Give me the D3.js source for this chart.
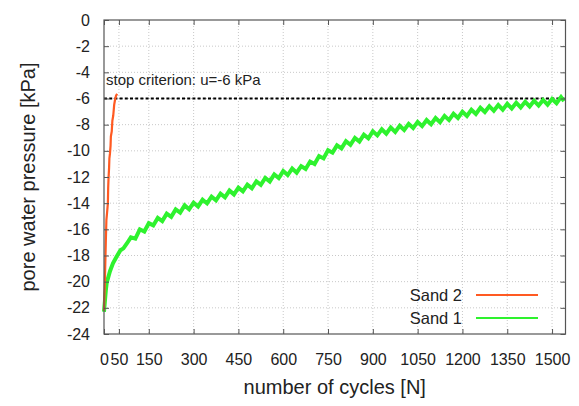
<!DOCTYPE html>
<html>
<head>
<meta charset="utf-8">
<script src="https://cdn.jsdelivr.net/npm/d3@7"></script>
<style>
  html, body { margin: 0; padding: 0; background: #fff; }
  svg { display: block; font-family: "Liberation Sans", Arial, sans-serif; }
</style>
</head>
<body>
<svg id="chart" width="579" height="406"></svg>
<script>
// ---- data ----
const xTicks = [0, 50, 150, 300, 450, 600, 750, 900, 1050, 1200, 1350, 1500];
const yTicks = [0, -2, -4, -6, -8, -10, -12, -14, -16, -18, -20, -22, -24];
const seriesNames = ["Sand 2", "Sand 1"];
const stopCriterion = -6;
const stopLabel = "stop criterion: u=-6 kPa";

const sand2Cycles = [0, 1, 3, 6, 8, 10, 13, 14, 15, 17, 18, 20, 22, 23, 26, 28, 31, 34, 37, 40, 44];
const sand2Values = [-22.2, -21.4, -19.9, -17.0, -15.3, -14.8, -14.0, -12.8, -12.2, -11.3, -10.6, -10.2, -9.6, -8.9, -8.5, -7.7, -7.3, -6.5, -6.1, -5.8, -5.65];

const sand1Cycles = [0, 3, 6, 9, 15, 20, 30, 42, 55, 65, 76,
  90, 105, 120, 135, 150, 165, 180, 195, 210, 225, 240, 255, 270, 285, 300, 315, 330, 345, 360, 375,
  390, 405, 420, 435, 450, 465, 480, 495, 510, 525, 540, 555, 570, 585, 600, 615, 630, 645, 660, 675,
  690, 705, 720, 735, 750, 765, 780, 795, 810, 825, 840, 855, 870, 885, 900, 915, 930, 945, 960, 975,
  990, 1005, 1020, 1035, 1050, 1065, 1080, 1095, 1110, 1125, 1140, 1155, 1170, 1185, 1200, 1215, 1230,
  1245, 1260, 1275, 1290, 1305, 1320, 1335, 1350, 1365, 1380, 1395, 1410, 1425, 1440, 1455, 1470, 1485,
  1500, 1515, 1530, 1540];
const sand1Values = [-22.3, -21.5, -20.7, -20.1, -19.6, -19.2, -18.6, -18.1, -17.6, -17.45, -17.1,
  -16.61, -16.71, -16.0, -16.17, -15.53, -15.7, -15.13, -15.37, -14.8, -15.04, -14.48, -14.72, -14.17, -14.46, -13.96, -14.25, -13.74, -14.02, -13.51, -13.79,
  -13.28, -13.56, -13.04, -13.33, -12.81, -13.09, -12.58, -12.86, -12.33, -12.6, -12.07, -12.34, -11.81, -12.08, -11.55, -11.85, -11.36, -11.67, -11.17, -11.39,
  -10.82, -11.01, -10.4, -10.58, -9.95, -10.14, -9.58, -9.81, -9.27, -9.54, -9.02, -9.29, -8.76, -9.04, -8.51, -8.82, -8.35, -8.69, -8.22, -8.55,
  -8.08, -8.41, -7.94, -8.26, -7.79, -8.11, -7.64, -7.96, -7.49, -7.81, -7.33, -7.65, -7.17, -7.49, -7.01, -7.33, -6.86,
  -7.18, -6.71, -7.03, -6.59, -6.94, -6.5, -6.85, -6.41, -6.76, -6.32, -6.68, -6.25, -6.61, -6.18, -6.54, -6.11, -6.47,
  -6.04, -6.36, -5.89, -6.2];

const colors = { "Sand 2": "#ff5a22", "Sand 1": "#2ef22e" };

// ---- chart ----
const svg = d3.select("#chart");
const mLeft = 104, mRight = 565.5, mTop = 20, mBottom = 334;
const x = d3.scaleLinear().domain([0, 1545]).range([mLeft, mRight]);
const y = d3.scaleLinear().domain([-24, 0]).range([mBottom, mTop]);
const fmt = d => String(d);

// grid
const grid = svg.append("g").attr("stroke", "#c8c8c8").attr("stroke-width", 1).attr("stroke-dasharray", "1,2");
xTicks.forEach(t => {
  if (t === 0) return;
  grid.append("line").attr("x1", x(t)).attr("x2", x(t)).attr("y1", mTop).attr("y2", mBottom);
});
yTicks.forEach(t => {
  if (t === 0 || t === -24) return;
  grid.append("line").attr("x1", mLeft).attr("x2", mRight).attr("y1", y(t)).attr("y2", y(t));
});

// stop criterion line
svg.append("line")
  .attr("x1", mLeft).attr("x2", mRight)
  .attr("y1", y(stopCriterion)).attr("y2", y(stopCriterion))
  .attr("stroke", "#000").attr("stroke-width", 1.8).attr("stroke-dasharray", "3,2.2");

svg.append("text")
  .attr("x", mLeft + 2).attr("y", 85)
  .attr("font-size", 15).attr("fill", "#222")
  .text(stopLabel);

// series
const line = d3.line().x(d => x(d[0])).y(d => y(d[1]));
const sand1 = sand1Cycles.map((c, i) => [c, sand1Values[i]]);
const sand2 = sand2Cycles.map((c, i) => [c, sand2Values[i]]);

svg.append("path").datum(sand1)
  .attr("d", line).attr("fill", "none")
  .attr("stroke", colors["Sand 1"]).attr("stroke-width", 4)
  .attr("stroke-linejoin", "miter");
svg.append("path").datum(sand2)
  .attr("d", line).attr("fill", "none")
  .attr("stroke", colors["Sand 2"]).attr("stroke-width", 2.2)
  .attr("stroke-linejoin", "round");

// axes (inward ticks, mirrored)
const axisColor = "#555";
function styleAxis(g) {
  g.select(".domain").remove();
  g.selectAll(".tick line").attr("stroke", axisColor);
  g.selectAll(".tick text").attr("fill", "#222").attr("font-size", 16)
    .attr("font-family", "Liberation Sans, Arial, sans-serif");
}
svg.append("g").attr("transform", `translate(${mLeft},0)`)
  .call(d3.axisLeft(y).tickValues(yTicks).tickFormat(fmt).tickSizeInner(-5).tickSizeOuter(0).tickPadding(14))
  .call(styleAxis);
svg.append("g").attr("transform", `translate(${mRight},0)`)
  .call(d3.axisRight(y).tickValues(yTicks).tickSizeInner(-5).tickSizeOuter(0).tickFormat(""))
  .call(styleAxis);
svg.append("g").attr("transform", `translate(0,${mBottom})`)
  .call(d3.axisBottom(x).tickValues(xTicks).tickFormat(fmt).tickSizeInner(-5).tickSizeOuter(0).tickPadding(20))
  .call(styleAxis);
svg.append("g").attr("transform", `translate(0,${mTop})`)
  .call(d3.axisTop(x).tickValues(xTicks).tickSizeInner(-5).tickSizeOuter(0).tickFormat(""))
  .call(styleAxis);

// frame
svg.append("rect")
  .attr("x", mLeft).attr("y", mTop).attr("width", mRight - mLeft).attr("height", mBottom - mTop)
  .attr("fill", "none").attr("stroke", axisColor).attr("stroke-width", 1.2);

// legend
const legendY = [295, 318];
seriesNames.forEach((name, i) => {
  svg.append("text").attr("x", 462).attr("y", legendY[i] + 5.5)
    .attr("text-anchor", "end").attr("font-size", 16.5).attr("fill", "#222").text(name);
  svg.append("line").attr("x1", 476).attr("x2", 538)
    .attr("y1", legendY[i]).attr("y2", legendY[i])
    .attr("stroke", colors[name]).attr("stroke-width", 2.2);
});

// axis titles
svg.append("text")
  .attr("x", (mLeft + mRight) / 2).attr("y", 394)
  .attr("text-anchor", "middle").attr("font-size", 20).attr("fill", "#222")
  .text("number of cycles [N]");
svg.append("text")
  .attr("transform", `translate(35,${(mTop + mBottom) / 2}) rotate(-90)`)
  .attr("text-anchor", "middle").attr("font-size", 20).attr("fill", "#222")
  .text("pore water pressure [kPa]");
</script>
</body>
</html>
